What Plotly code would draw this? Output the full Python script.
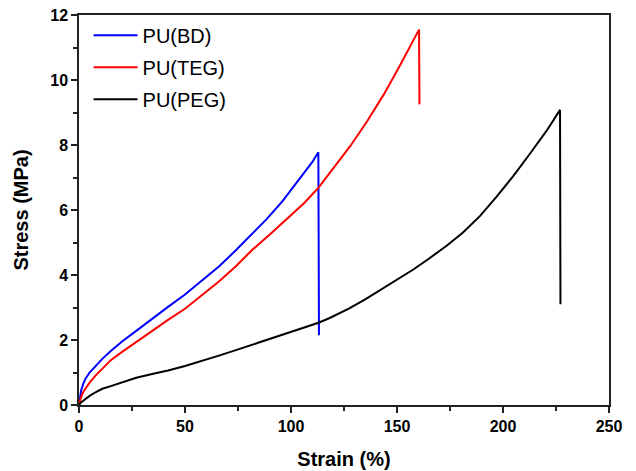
import plotly.graph_objects as go

# PU(BD)
bd_strain = [0, 0.5, 1, 2, 3, 5, 8, 11, 15, 20, 27, 35, 42, 50, 58, 66, 74, 82, 88.5, 96, 104, 110, 112.9, 113.0, 113.2]
bd_stress = [0, 0.3, 0.45, 0.65, 0.8, 1.0, 1.22, 1.42, 1.66, 1.94, 2.28, 2.68, 3.02, 3.4, 3.82, 4.26, 4.76, 5.3, 5.72, 6.27, 6.96, 7.47, 7.78, 5.0, 2.15]

# PU(TEG)
teg_strain = [0, 0.5, 1, 2, 3, 5, 8, 11, 15, 20, 27, 35, 42, 50, 58, 66, 74, 82, 90, 98, 106, 113, 120, 128, 136, 144, 151, 156, 160.4, 160.5, 160.6]
teg_stress = [0, 0.15, 0.25, 0.4, 0.5, 0.69, 0.92, 1.13, 1.38, 1.62, 1.94, 2.32, 2.62, 2.96, 3.38, 3.8, 4.27, 4.79, 5.25, 5.72, 6.2, 6.69, 7.27, 7.97, 8.74, 9.58, 10.4, 11.0, 11.55, 10.3, 9.25]

# PU(PEG)
peg_strain = [0, 0.5, 1, 2, 3, 5, 8, 11, 15, 20, 27, 35, 42, 50, 58, 66, 74, 82, 90, 96, 105, 113, 118, 127.5, 135, 142, 150, 157.7, 165, 173.4, 181, 189.2, 197, 204.9, 212.7, 220.6, 226.9, 227.0, 227.1]
peg_stress = [0, 0.05, 0.08, 0.13, 0.19, 0.28, 0.4, 0.5, 0.58, 0.68, 0.84, 0.96, 1.06, 1.2, 1.35, 1.52, 1.69, 1.86, 2.04, 2.17, 2.36, 2.53, 2.67, 2.97, 3.25, 3.54, 3.86, 4.17, 4.5, 4.9, 5.3, 5.82, 6.41, 7.05, 7.73, 8.44, 9.08, 6.0, 3.1]

x_ticks = [0, 50, 100, 150, 200, 250]
y_ticks = [0, 2, 4, 6, 8, 10, 12]

FONT = "Arial, Liberation Sans, sans-serif"
AXC = "#222222"

fig = go.Figure()
fig.add_trace(go.Scatter(x=bd_strain, y=bd_stress, mode="lines", name="PU(BD)", legendgroup="a",
                         line=dict(color="#0000ff", width=2)))
fig.add_trace(go.Scatter(x=teg_strain, y=teg_stress, mode="lines", name="PU(TEG)", legendgroup="b",
                         line=dict(color="#ff0000", width=2)))
fig.add_trace(go.Scatter(x=peg_strain, y=peg_stress, mode="lines", name="PU(PEG)", legendgroup="c",
                         line=dict(color="#000000", width=2)))

axis_common = dict(
    showline=True, linecolor=AXC, linewidth=1.5, mirror=True,
    ticks="outside", ticklen=6, tickwidth=1.5, tickcolor=AXC,
    showgrid=False, zeroline=False, automargin=False, ticklabeloverflow="allow",
    tickfont=dict(family=FONT, size=16, color="black", weight="bold"),
)

fig.update_layout(
    width=628, height=463,
    margin=dict(l=71, r=27, t=7, b=66),
    paper_bgcolor="white", plot_bgcolor="white",
    font=dict(family=FONT, color="black"),
    xaxis=dict(range=[0, 250], tickvals=x_ticks,
               minor=dict(ticks="outside", ticklen=4, tickwidth=1.5, tickcolor=AXC, dtick=25, tick0=0),
               title=dict(text="Strain (%)", font=dict(family=FONT, size=20, weight="bold", color="black"), standoff=18),
               **axis_common),
    yaxis=dict(range=[0, 12], tickvals=y_ticks,
               minor=dict(ticks="outside", ticklen=4, tickwidth=1.5, tickcolor=AXC, dtick=1, tick0=0),
               title=dict(text="Stress (MPa)", font=dict(family=FONT, size=20, weight="bold", color="black"), standoff=16),
               **axis_common),
    legend=dict(x=0.018, y=0.998, xanchor="left", yanchor="top",
                bgcolor="rgba(0,0,0,0)", font=dict(family=FONT, size=20, color="black"),
                traceorder="grouped", tracegroupgap=3, itemwidth=44),
)

fig.write_html("out.html")
